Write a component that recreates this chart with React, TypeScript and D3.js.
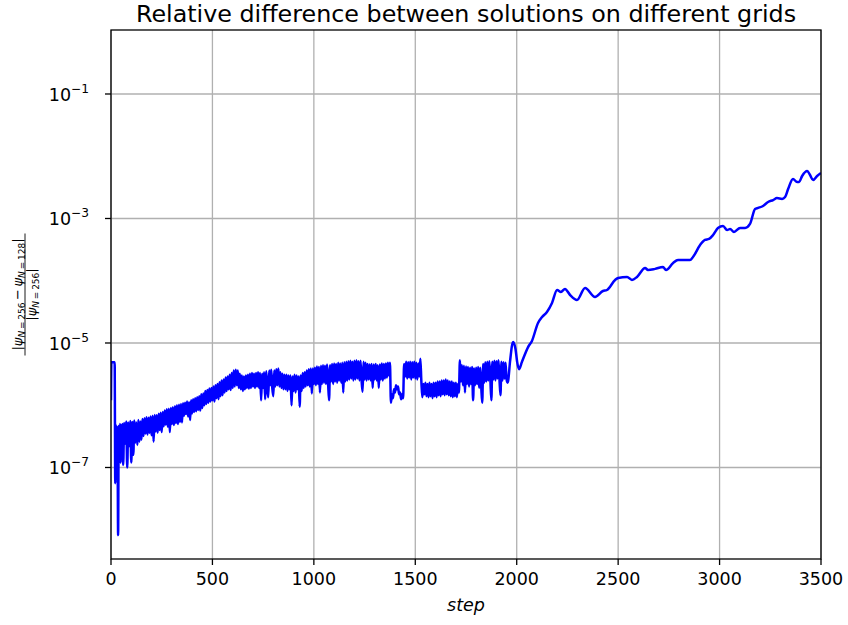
import React from 'react';
import * as d3 from 'd3';

const W = 848;
const H = 625;

const titleText = 'Relative difference between solutions on different grids';
const xLabelText = 'step';
const xTicks = [0, 500, 1000, 1500, 2000, 2500, 3000, 3500];
const yTickExps = [-1, -3, -5, -7];

// Start of the run (explicit steps)
const headSteps = [0, 2, 18, 21, 24, 27, 30, 33, 35, 38, 41, 44, 47, 50, 53, 56];
const headValues = [1.2e-6, 4.9e-6, 4.9e-6, 5.6e-8, 4.8e-7, 1.2e-7, 4.5e-7, 1.1e-7, 8.2e-9, 4.6e-7, 1.6e-7, 5.0e-7, 1.2e-7, 4.8e-7, 2.0e-7, 5.0e-7];

// Noisy band, sampled every 5 steps from step 60 to 1955 (one row = 100 steps)
const bandStart = 60;
const bandStride = 5;
const bandValues = [
  1.1e-7, 5.2e-7, 2.4e-7, 5.5e-7, 1.0e-7, 5.3e-7, 2.2e-7, 5.6e-7, 1.2e-7, 5.4e-7, 1.6e-7, 5.7e-7, 2.5e-7, 5.3e-7, 2.3e-7, 5.8e-7, 2.6e-7, 5.5e-7, 2.8e-7, 6.0e-7, // 60-155
  3.2e-7, 6.2e-7, 3.5e-7, 6.4e-7, 3.4e-7, 6.3e-7, 3.6e-7, 6.6e-7, 3.3e-7, 6.8e-7, 2.6e-7, 7.0e-7, 3.8e-7, 6.9e-7, 3.6e-7, 7.3e-7, 4.0e-7, 7.6e-7, 3.7e-7, 7.8e-7, // 160-255
  4.6e-7, 8.2e-7, 4.9e-7, 8.6e-7, 4.5e-7, 8.8e-7, 3.7e-7, 9.0e-7, 5.0e-7, 9.3e-7, 4.8e-7, 9.6e-7, 5.2e-7, 1.0e-6, 5.0e-7, 1.02e-6, 5.4e-7, 1.05e-6, 5.3e-7, 1.08e-6, // 260-355
  6.8e-7, 1.1e-6, 7.2e-7, 1.15e-6, 6.6e-7, 1.12e-6, 5.8e-7, 1.2e-6, 7.4e-7, 1.25e-6, 7.8e-7, 1.3e-6, 8.0e-7, 1.35e-6, 8.4e-7, 1.4e-6, 8.2e-7, 1.5e-6, 9.0e-7, 1.55e-6, // 360-455
  1.0e-6, 1.7e-6, 1.05e-6, 1.75e-6, 1.1e-6, 1.85e-6, 1.15e-6, 1.9e-6, 1.2e-6, 2.0e-6, 1.15e-6, 2.1e-6, 1.3e-6, 2.2e-6, 1.25e-6, 2.35e-6, 1.4e-6, 2.5e-6, 1.45e-6, 2.6e-6, // 460-555
  1.6e-6, 2.8e-6, 1.7e-6, 2.9e-6, 1.8e-6, 3.1e-6, 1.75e-6, 3.3e-6, 1.9e-6, 3.6e-6, 2.0e-6, 3.7e-6, 2.1e-6, 3.6e-6, 1.9e-6, 3.2e-6, 1.8e-6, 3.0e-6, 1.7e-6, 2.9e-6, // 560-655
  1.8e-6, 3.0e-6, 1.9e-6, 3.1e-6, 1.85e-6, 3.2e-6, 1.9e-6, 3.3e-6, 2.0e-6, 3.2e-6, 1.9e-6, 3.3e-6, 2.0e-6, 3.4e-6, 1.9e-6, 3.3e-6, 1.2e-6, 3.2e-6, 1.9e-6, 3.4e-6, // 660-755
  1.25e-6, 3.5e-6, 2.0e-6, 1.35e-6, 3.6e-6, 2.1e-6, 3.7e-6, 1.9e-6, 1.4e-6, 3.6e-6, 2.0e-6, 3.8e-6, 2.1e-6, 3.9e-6, 2.0e-6, 3.4e-6, 1.9e-6, 3.2e-6, 1.8e-6, 3.1e-6, // 760-855
  1.8e-6, 3.1e-6, 1.7e-6, 3.0e-6, 1.8e-6, 3.0e-6, 1.0e-6, 2.9e-6, 1.7e-6, 3.1e-6, 1.6e-6, 3.0e-6, 1.8e-6, 2.9e-6, 9.5e-7, 3.0e-6, 1.7e-6, 3.3e-6, 1.9e-6, 3.4e-6, // 860-955
  2.0e-6, 3.6e-6, 2.1e-6, 3.8e-6, 2.0e-6, 3.9e-6, 1.55e-6, 3.9e-6, 2.2e-6, 4.0e-6, 2.1e-6, 4.2e-6, 2.2e-6, 4.1e-6, 1.6e-6, 4.3e-6, 2.2e-6, 4.4e-6, 2.3e-6, 4.3e-6, // 960-1055
  2.2e-6, 4.5e-6, 2.3e-6, 1.2e-6, 4.4e-6, 2.4e-6, 4.6e-6, 2.2e-6, 4.7e-6, 2.4e-6, 4.6e-6, 2.3e-6, 4.8e-6, 2.5e-6, 4.7e-6, 2.3e-6, 4.8e-6, 1.6e-6, 4.9e-6, 2.4e-6, // 1060-1155
  5.0e-6, 2.5e-6, 5.1e-6, 2.6e-6, 5.2e-6, 2.7e-6, 5.0e-6, 2.5e-6, 5.2e-6, 2.6e-6, 5.3e-6, 2.7e-6, 5.1e-6, 2.5e-6, 5.2e-6, 2.6e-6, 1.65e-6, 5.0e-6, 2.6e-6, 4.8e-6, // 1160-1255
  2.5e-6, 4.6e-6, 2.6e-6, 4.5e-6, 2.5e-6, 4.6e-6, 1.9e-6, 4.5e-6, 2.6e-6, 4.6e-6, 2.5e-6, 4.4e-6, 1.9e-6, 4.5e-6, 2.6e-6, 4.7e-6, 2.5e-6, 4.6e-6, 2.7e-6, 4.7e-6, // 1260-1355
  2.8e-6, 4.8e-6, 3.0e-6, 4.8e-6, 1.1e-6, 1.5e-6, 1.3e-6, 1.8e-6, 1.6e-6, 2.1e-6, 1.8e-6, 2.0e-6, 1.5e-6, 1.6e-6, 1.25e-6, 1.5e-6, 1.3e-6, 4.6e-6, 2.9e-6, 5.0e-6, // 1360-1455
  2.7e-6, 4.9e-6, 2.8e-6, 5.0e-6, 2.6e-6, 4.9e-6, 2.8e-6, 5.0e-6, 2.7e-6, 4.8e-6, 2.6e-6, 4.7e-6, 2.9e-6, 5.6e-6, 2.4e-6, 1.35e-6, 2.2e-6, 1.5e-6, 2.3e-6, 1.4e-6, // 1460-1555
  2.2e-6, 1.35e-6, 2.3e-6, 1.4e-6, 2.2e-6, 1.3e-6, 2.3e-6, 1.4e-6, 2.3e-6, 1.35e-6, 2.4e-6, 1.45e-6, 2.4e-6, 1.4e-6, 2.5e-6, 1.5e-6, 2.5e-6, 1.45e-6, 2.6e-6, 1.5e-6, // 1560-1655
  2.5e-6, 1.45e-6, 2.4e-6, 1.4e-6, 2.4e-6, 1.35e-6, 2.3e-6, 1.4e-6, 2.3e-6, 1.35e-6, 2.2e-6, 1.6e-6, 5.3e-6, 2.4e-6, 4.4e-6, 2.1e-6, 4.3e-6, 1.6e-6, 4.2e-6, 2.2e-6, // 1660-1755
  4.1e-6, 2.0e-6, 4.0e-6, 2.2e-6, 4.1e-6, 1.2e-6, 3.9e-6, 2.1e-6, 4.0e-6, 2.2e-6, 4.1e-6, 1.9e-6, 4.0e-6, 2.0e-6, 1.1e-6, 4.6e-6, 2.3e-6, 4.9e-6, 2.4e-6, 5.0e-6, // 1760-1855
  2.5e-6, 5.1e-6, 2.6e-6, 1.2e-6, 5.0e-6, 2.6e-6, 5.2e-6, 2.5e-6, 5.1e-6, 2.7e-6, 5.3e-6, 2.6e-6, 1.45e-6, 5.0e-6, 2.5e-6, 4.9e-6, 2.7e-6, 4.8e-6, 2.6e-6, 2.3e-6, // 1860-1955
];

// Smooth growth after step ~1955 (explicit steps)
const tailSteps = [1958, 1967, 1982, 1994, 2002, 2011, 2026, 2056, 2075, 2105, 2125, 2149, 2174, 2199, 2218, 2238, 2263, 2297, 2337, 2386, 2425, 2445, 2485, 2500, 2544, 2568, 2593, 2633, 2647, 2682, 2721, 2736, 2771, 2795, 2854, 2869, 2904, 2928, 2948, 2968, 2992, 3017, 3037, 3052, 3071, 3101, 3126, 3150, 3175, 3190, 3214, 3239, 3264, 3283, 3308, 3323, 3338, 3362, 3382, 3392, 3407, 3432, 3446, 3461, 3481, 3500];
const tailValues = [2.5e-6, 5.0e-6, 1.04e-5, 8.0e-6, 5.0e-6, 3.8e-6, 5.0e-6, 8.6e-6, 1.08e-5, 2.1e-5, 2.62e-5, 3.15e-5, 4.4e-5, 7.1e-5, 6.6e-5, 7.4e-5, 5.9e-5, 4.9e-5, 7.66e-5, 5.5e-5, 6.84e-5, 7.1e-5, 1.03e-4, 1.11e-4, 1.15e-4, 1.03e-4, 1.15e-4, 1.6e-4, 1.49e-4, 1.55e-4, 1.66e-4, 1.49e-4, 1.93e-4, 2.16e-4, 2.16e-4, 2.41e-4, 3.75e-4, 4.52e-4, 4.69e-4, 5.43e-4, 7.04e-4, 7.59e-4, 6.53e-4, 6.78e-4, 6.07e-4, 7.04e-4, 7.04e-4, 8.17e-4, 1.42e-3, 1.48e-3, 1.59e-3, 1.84e-3, 1.98e-3, 2.13e-3, 2.06e-3, 2.21e-3, 2.98e-3, 4.31e-3, 3.86e-3, 3.86e-3, 4.82e-3, 5.79e-3, 5.0e-3, 4.15e-3, 4.82e-3, 5.4e-3];

const FONT = "'DejaVu Sans', sans-serif";

export default function App() {
  const left = 111, right = 821, top = 30, bottom = 559;
  const x = d3.scaleLinear().domain([0, 3500]).range([left, right]);
  const y = d3.scaleLog().domain([Math.pow(10, -8.47), Math.pow(10, 0.028)]).range([bottom, top]);

  const data: [number, number][] = [
    ...headSteps.map((s, i) => [s, headValues[i]] as [number, number]),
    ...bandValues.map((v, i) => [bandStart + i * bandStride, v] as [number, number]),
    ...tailSteps.map((s, i) => [s, tailValues[i]] as [number, number]),
  ];

  const line = d3
    .line<[number, number]>()
    .x((d) => x(d[0]))
    .y((d) => y(d[1]))
    .curve(d3.curveMonotoneX);

  const gridColor = '#b0b0b0';
  const tickLen = 6;
  const tickFont = 17.5;

  return (
    <svg
      width={W}
      height={H}
      style={{ position: 'absolute', left: 0, top: 0, background: '#fff' }}
      fontFamily={FONT}
    >
      <rect x={0} y={0} width={W} height={H} fill="#fff" />
      <defs>
        <clipPath id="plotClip">
          <rect x={left} y={top} width={right - left} height={bottom - top} />
        </clipPath>
      </defs>

      {/* grid */}
      {xTicks.map((t) => (
        <line key={'gx' + t} x1={x(t)} x2={x(t)} y1={top} y2={bottom} stroke={gridColor} strokeWidth={1.3} />
      ))}
      {yTickExps.map((e) => (
        <line key={'gy' + e} x1={left} x2={right} y1={y(Math.pow(10, e))} y2={y(Math.pow(10, e))} stroke={gridColor} strokeWidth={1.3} />
      ))}

      {/* data line */}
      <path d={line(data) || ''} fill="none" stroke="#0000ff" strokeWidth={2.5} strokeLinejoin="round" clipPath="url(#plotClip)" />

      {/* spines */}
      <rect x={left} y={top} width={right - left} height={bottom - top} fill="none" stroke="#000" strokeWidth={1.3} />

      {/* x ticks */}
      {xTicks.map((t) => (
        <g key={'xt' + t}>
          <line x1={x(t)} x2={x(t)} y1={bottom} y2={bottom + tickLen} stroke="#000" strokeWidth={1.3} />
          <text x={x(t)} y={bottom + 26} textAnchor="middle" fontSize={tickFont} fill="#000">
            {t}
          </text>
        </g>
      ))}

      {/* y ticks */}
      {yTickExps.map((e) => {
        const yy = y(Math.pow(10, e));
        return (
          <g key={'yt' + e}>
            <line x1={left - tickLen} x2={left} y1={yy} y2={yy} stroke="#000" strokeWidth={1.3} />
            <text x={89} y={yy + 7} textAnchor="end" fontSize={tickFont} fill="#000">
              <tspan>10</tspan>
              <tspan fontSize={12.2} dy={-8}>{'\u2212' + Math.abs(e)}</tspan>
            </text>
          </g>
        );
      })}

      {/* title */}
      <text x={(left + right) / 2} y={22} textAnchor="middle" fontSize={23.8} fill="#000">
        {titleText}
      </text>

      {/* x label */}
      <text x={(left + right) / 2} y={611} textAnchor="middle" fontSize={tickFont} fontStyle="italic" fill="#000">
        {xLabelText}
      </text>

      {/* y label: fraction */}
      <g transform={`translate(25, ${(top + bottom) / 2}) rotate(-90)`} fill="#000">
        <text x={0} y={-3} textAnchor="middle" fontSize={13}>
          <tspan>|</tspan>
          <tspan fontStyle="italic">ψ</tspan>
          <tspan fontSize={9} dy={3}>
            <tspan fontStyle="italic">N</tspan>
            {'\u2009=\u2009256'}
          </tspan>
          <tspan dy={-3}>{'\u2009\u2212\u2009'}</tspan>
          <tspan fontStyle="italic">ψ</tspan>
          <tspan fontSize={9} dy={3}>
            <tspan fontStyle="italic">N</tspan>
            {'\u2009=\u2009128'}
          </tspan>
          <tspan dy={-3}>|</tspan>
        </text>
        <line x1={-61} x2={61} y1={0} y2={0} stroke="#000" strokeWidth={0.9} />
        <text x={0} y={11} textAnchor="middle" fontSize={13}>
          <tspan>|</tspan>
          <tspan fontStyle="italic">ψ</tspan>
          <tspan fontSize={9} dy={3}>
            <tspan fontStyle="italic">N</tspan>
            {'\u2009=\u2009256'}
          </tspan>
          <tspan dy={-3}>|</tspan>
        </text>
      </g>
    </svg>
  );
}
